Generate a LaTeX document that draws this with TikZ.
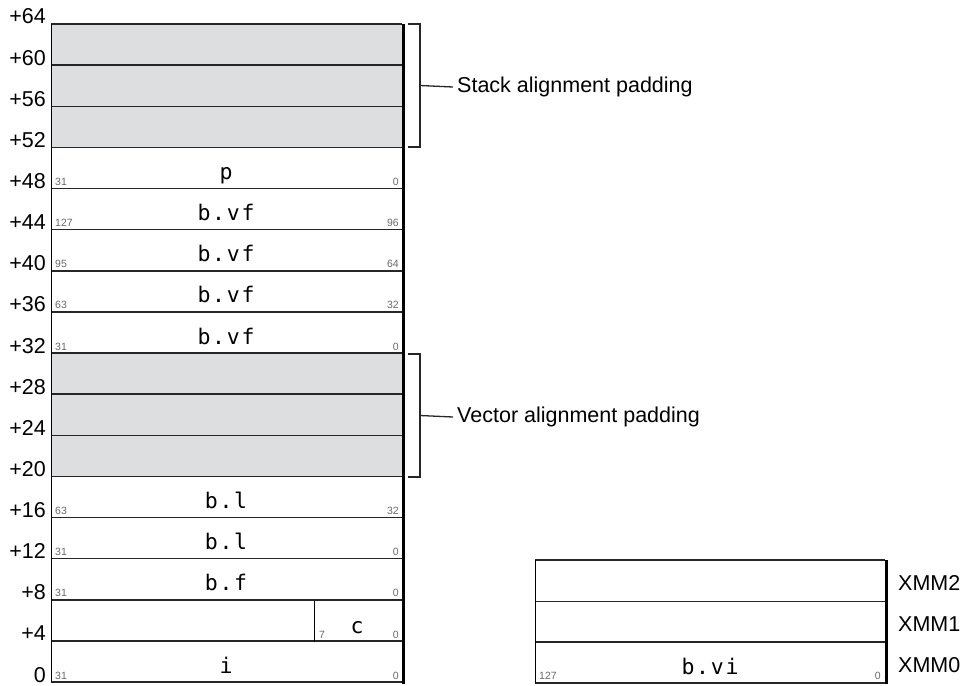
\documentclass[tikz,border=0pt]{standalone}
\usepackage{fontspec}
\setmainfont{Liberation Sans}
\newfontfamily\codefont[LetterSpace=8]{DejaVu Sans Mono}
\definecolor{padgray}{RGB}{221,222,224}
\definecolor{bitgray}{RGB}{105,105,105}
\tikzset{
  offset/.style={anchor=base east, inner sep=0pt, font=\fontsize{21.5}{21.5}\selectfont},
  bitno/.style={inner sep=0pt, text=bitgray, font=\fontsize{10.5}{10.5}\selectfont},
  field/.style={anchor=base, inner sep=0pt, font=\codefont\fontsize{21.5}{21.5}\selectfont},
  note/.style={anchor=west, inner sep=4pt, font=\fontsize{21.5}{21.5}\selectfont},
  rowline/.style={line width=1.5pt, draw=black!85},
  brace/.style={line width=1.3pt, draw=black!85}
}
\begin{document}
\begin{tikzpicture}[x=1pt, y=-1pt]
\useasboundingbox (0,0) rectangle (965,685);
% padding rows
\fill[padgray] (51,24) rectangle (402,147.4);
\fill[padgray] (51,353) rectangle (402,476.5);
% stack rows and offsets
\foreach \k in {0,...,16} {
  \pgfmathsetmacro\yy{24+41.125*\k}
  \pgfmathtruncatemacro\off{64-4*\k}
  \draw[rowline] (51,\yy) -- (402,\yy);
  \ifnum\off>0
    \node[offset] (off\k) at (46,\yy) {+\off};
  \else
    \node[offset] (off\k) at (46,\yy) {\off};
  \fi
}
\draw[line width=0.8pt] (51,24) -- (51,682);
\draw[line width=3pt] (403.5,24) -- (403.5,684);
% fields
\foreach \k/\name/\hi/\lo in {4/p/31/0, 5/b.vf/127/96, 6/b.vf/95/64, 7/b.vf/63/32,
    8/b.vf/31/0, 12/b.l/63/32, 13/b.l/31/0, 14/b.f/31/0, 16/i/31/0} {
  \pgfmathsetmacro\yy{24+41.125*\k}
  \node[field] (fld\k) at (226,\yy-9) {\name};
  \node[bitno, anchor=base west] (hi\k) at (55,\yy-3) {\hi};
  \node[bitno, anchor=base east] (lo\k) at (399,\yy-3) {\lo};
}
% char row
\draw[line width=0.8pt] (314,601) -- (314,641.5);
\node[field] (fld15) at (357,633) {c};
\node[bitno, anchor=base west] (hi15) at (319,638) {7};
\node[bitno, anchor=base east] (lo15) at (399,638) {0};
% brackets
\coordinate (stackmid) at (420,85.5);
\coordinate (vecmid) at (420,415.5);
\draw[brace] (408,24) -| (420,147) -- (408,147);
\draw[brace] (408,354) -| (420,477) -- (408,477);
\node[note] (stacknote) at (453,87) {Stack alignment padding};
\node[note] (vecnote) at (453,417) {Vector alignment padding};
\draw[brace] (stackmid) -- (stacknote.west);
\draw[brace] (vecmid) -- (vecnote.west);
% xmm registers
\foreach \y in {560,601.5,642,683} \draw[rowline] (535,\y) -- (885,\y);
\draw[line width=0.8pt] (535,560) -- (535,683);
\draw[line width=3pt] (886.5,560) -- (886.5,684);
\node[note, inner sep=0pt] (xmm2) at (898,583) {XMM2};
\node[note, inner sep=0pt] (xmm1) at (898,624) {XMM1};
\node[note, inner sep=0pt] (xmm0) at (898,665) {XMM0};
\node[field] (vi) at (710,674) {b.vi};
\node[bitno, anchor=base west] (hixmm) at (539,679) {127};
\node[bitno, anchor=base east] (loxmm) at (881,679) {0};
\end{tikzpicture}
\end{document}
